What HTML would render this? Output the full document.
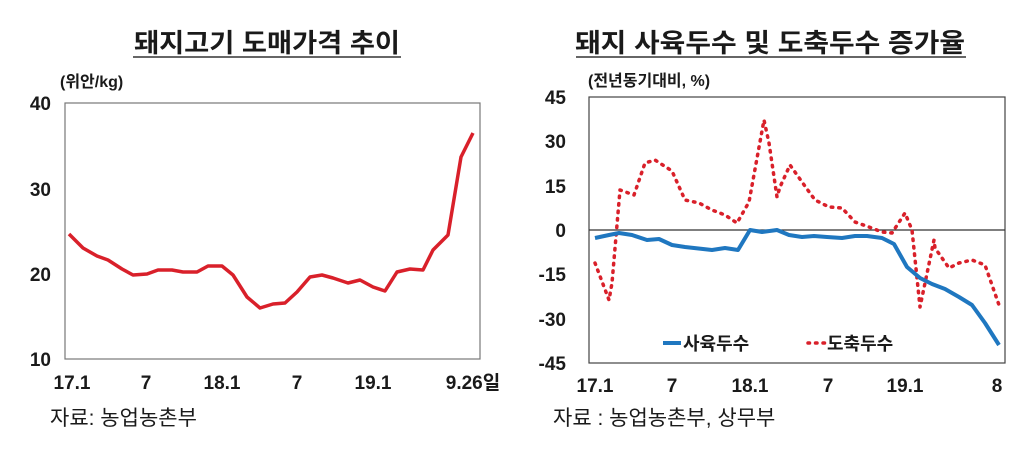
<!DOCTYPE html>
<html><head><meta charset="utf-8"><style>
html,body{margin:0;padding:0;background:#fff;}
svg{display:block;}
text{font-family:"Liberation Sans","Noto Sans CJK KR",sans-serif;fill:#1a1a1a;}
</style></head><body>
<svg width="1024" height="468" viewBox="0 0 1024 468">
<!-- Left chart -->
<text x="267" y="52" font-size="26" font-weight="bold" text-anchor="middle" textLength="266" lengthAdjust="spacingAndGlyphs">돼지고기 도매가격 추이</text>
<line x1="133" y1="57" x2="401" y2="57" stroke="#333" stroke-width="1.5"/>
<text x="60" y="87" font-size="16" font-weight="bold">(위안/kg)</text>
<rect x="65" y="103" width="415" height="256" fill="none" stroke="#777" stroke-width="1.2"/>
<g font-size="19" font-weight="bold" text-anchor="end">
<text x="51" y="110">40</text><text x="51" y="196">30</text><text x="51" y="281">20</text><text x="51" y="366">10</text>
</g>
<g font-size="19" font-weight="bold" text-anchor="middle">
<text x="72" y="389">17.1</text><text x="146" y="389">7</text><text x="222" y="389">18.1</text><text x="297" y="389">7</text><text x="373" y="389">19.1</text><text x="473" y="389">9.26일</text>
</g>
<text x="50" y="425" font-size="21" fill="#333">자료: 농업농촌부</text>
<polyline fill="none" stroke="#d9202a" stroke-width="3.5" stroke-linejoin="round" points="69,234 83,248 97,256 108,260 122,269 133,275 147,274 158,270 172,270 183,272 197,272 208,266 222,266 233,275 247,297 260,308 273,304 285,303 297,292 310,277 322,275 333,278 348,283 360,280 373,287 385,291 397,272 410,269 423,270 433,250 448,235 461,157 473,133"/>
<!-- Right chart -->
<text x="770" y="52" font-size="26" font-weight="bold" text-anchor="middle" textLength="390" lengthAdjust="spacingAndGlyphs">돼지 사육두수 및 도축두수 증가율</text>
<line x1="576" y1="57" x2="966" y2="57" stroke="#333" stroke-width="1.5"/>
<text x="588" y="86" font-size="16" font-weight="bold">(전년동기대비, %)</text>
<rect x="589" y="97" width="416" height="266" fill="none" stroke="#444" stroke-width="1.2"/>
<line x1="589" y1="230" x2="1005" y2="230" stroke="#333" stroke-width="1.2"/>
<g font-size="19" font-weight="bold" text-anchor="end">
<text x="566" y="104">45</text><text x="566" y="148">30</text><text x="566" y="193">15</text><text x="566" y="237">0</text><text x="566" y="281">-15</text><text x="566" y="326">-30</text><text x="566" y="370">-45</text>
</g>
<g font-size="19" font-weight="bold" text-anchor="middle">
<text x="595" y="392">17.1</text><text x="672" y="392">7</text><text x="750" y="392">18.1</text><text x="828" y="392">7</text><text x="905" y="392">19.1</text><text x="997" y="392">8</text>
</g>
<text x="553" y="425" font-size="21" fill="#333">자료 : 농업농촌부, 상무부</text>
<polyline fill="none" stroke="#d9202a" stroke-width="3.5" stroke-dasharray="1.5 6" stroke-linecap="round" stroke-linejoin="round" points="595,263 609,300 612,283 620,190 634,195 645,163 655,160 672,171 685,200 699,203 712,210 725,215 737,223 749,202 764,120 769,143 777,197 780,187 790,165 802,182 815,200 829,207 842,208 855,222 869,227 882,232 892,233 905,213 912,230 920,307 934,240 935,248 949,268 959,263 972,260 985,265 999,305"/>
<polyline fill="none" stroke="#1f77c0" stroke-width="4" stroke-linejoin="round" points="595,238 609,235 619,233 632,235 647,240 659,239 672,245 685,247 712,250 725,248 738,250 750,230 762,232 777,230 789,235 802,237 814,236 827,237 842,238 855,236 867,236 882,238 894,244 907,267 920,278 932,284 945,289 959,297 972,305 985,323 999,345"/>
<line x1="663" y1="343" x2="681" y2="343" stroke="#1f77c0" stroke-width="4"/>
<text x="683" y="350" font-size="18" font-weight="bold">사육두수</text>
<line x1="808" y1="343" x2="826" y2="343" stroke="#d9202a" stroke-width="3.5" stroke-dasharray="1.5 6" stroke-linecap="round"/>
<text x="827" y="350" font-size="18" font-weight="bold">도축두수</text>
</svg>
</body></html>
